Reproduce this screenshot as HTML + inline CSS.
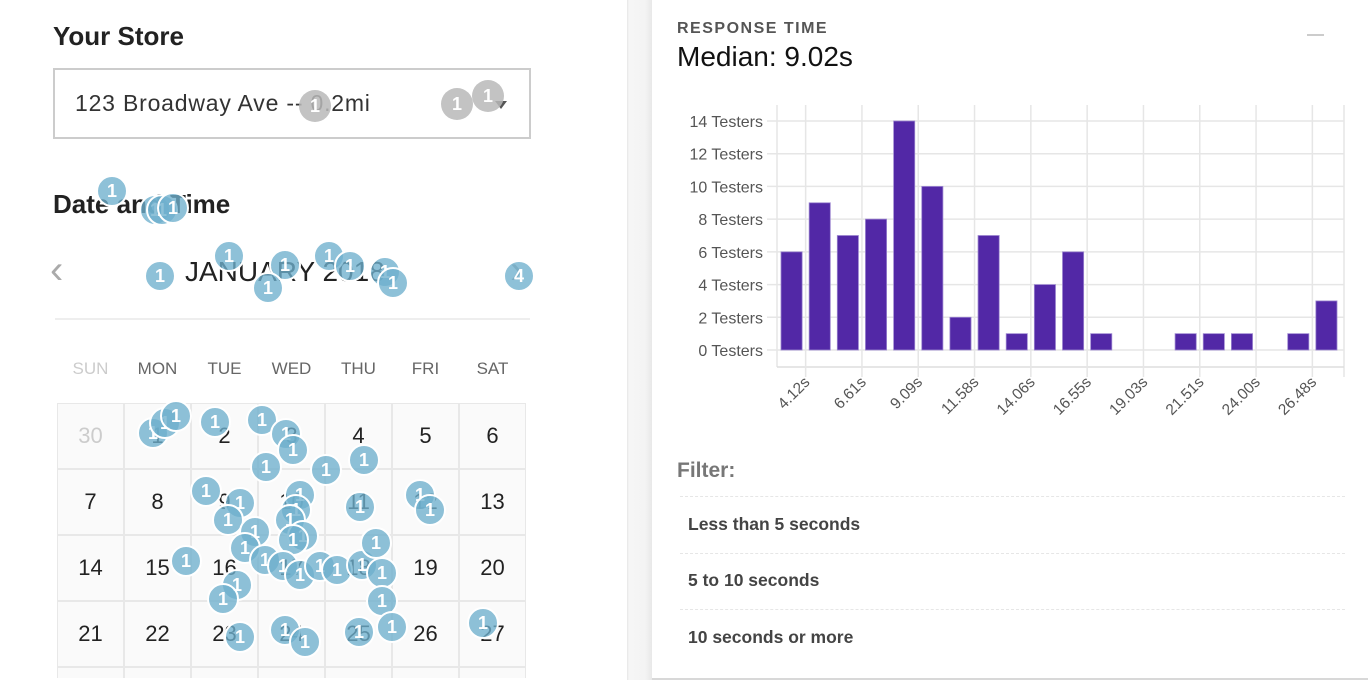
<!DOCTYPE html>
<html style="width:1368px;height:680px;overflow:hidden"><head><meta charset="utf-8">
<style>
*{box-sizing:border-box;margin:0;padding:0}
body{width:1368px;height:680px;overflow:hidden;background:#fff;font-family:"Liberation Sans",sans-serif;position:relative}
.abs{position:absolute}
.left{position:absolute;left:0;top:0;width:627px;height:680px;background:#fff;overflow:hidden}
.band{position:absolute;left:627px;top:0;width:25px;height:680px;background:linear-gradient(90deg,#e6e6e6 0,#f6f6f6 2px,#f4f4f4 18px,#e8e8e8 25px)}
.card{position:absolute;left:652px;top:0;width:716px;height:680px;background:#fff;border-bottom:2px solid #d8d8d8}
h2{position:absolute;font-size:26px;font-weight:bold;color:#222}
.sel{position:absolute;left:53px;top:68px;width:478px;height:71px;border:2px solid #ccc}
.dh{position:absolute;top:359px;font-size:17px;color:#666;width:67px;text-align:center}
.cell{position:absolute;width:67px;height:66px;border:1px solid #e8e8e8;background:#fafafa;font-size:22px;color:#222;text-align:center;line-height:64px;overflow:hidden}
.bub{position:absolute;width:32px;height:32px;border-radius:50%;background:rgba(110,175,205,0.78);border:2px solid #fff;color:#fff;font-weight:bold;font-size:18px;text-align:center;line-height:28px}
.gb{background:rgba(185,185,185,0.85);border:none;line-height:32px}
.frow{position:absolute;left:688px;font-size:17.5px;font-weight:bold;color:#444}
.sep{position:absolute;left:680px;width:665px;border-top:1px dashed #e6e6e6}
</style></head><body>
<div class="left">
<h2 style="left:53px;top:21px">Your Store</h2>
<div class="sel">
<div class="abs" style="left:20px;top:20px;font-size:23px;letter-spacing:0.8px;color:#333;white-space:nowrap">123 Broadway Ave -- 0.2mi</div>
<div class="abs" style="left:440px;top:31px;width:0;height:0;border-left:6px solid transparent;border-right:6px solid transparent;border-top:8px solid #555"></div>
</div>
<h2 style="left:53px;top:189px">Date and Time</h2>
<div class="abs" style="left:50px;top:248px;font-size:40px;color:#aaa">&#8249;</div>
<div class="abs" style="left:185px;top:256px;font-size:28px;color:#222">JANUARY 2018</div>
<div class="abs" style="left:510px;top:248px;font-size:40px;color:#aaa">&#8250;</div>
<div class="abs" style="left:55px;top:318px;width:475px;border-top:2px solid #eee"></div>
<div id="cal"></div>
<div id="bubs"></div>
</div>
<div class="band"></div>
<div class="card"></div>
<div class="abs" style="left:677px;top:20px;font-size:16px;font-weight:bold;color:#555;letter-spacing:1.5px">RESPONSE TIME</div>
<div class="abs" style="left:677px;top:41px;font-size:28px;color:#111">Median: 9.02s</div>
<div class="abs" style="left:1307px;top:34px;width:17px;border-top:2px solid #ccc"></div>
<svg id="chart" class="abs" style="left:0;top:0" width="1368" height="440"></svg>
<div class="abs" style="left:677px;top:459px;font-size:21px;font-weight:bold;color:#777">Filter:</div>
<div class="sep" style="top:496px"></div>
<div class="frow" style="top:514px">Less than 5 seconds</div>
<div class="sep" style="top:553px"></div>
<div class="frow" style="top:570px">5 to 10 seconds</div>
<div class="sep" style="top:609px"></div>
<div class="frow" style="top:627px">10 seconds or more</div>
<script>
const counts=[6,9,7,8,14,10,2,7,1,4,6,1,0,0,1,1,1,0,1,3];
const yTicks=[0,2,4,6,8,10,12,14];
const xTickLabels=["4.12s","6.61s","9.09s","11.58s","14.06s","16.55s","19.03s","21.51s","24.00s","26.48s"];
const NS="http://www.w3.org/2000/svg";
const svg=document.getElementById('chart');
const L=777,R=1344,T=105,B=367;
const y=v=>350-v*(350-121)/14;
const pitch=(R-L-4)/counts.length;
const bx=i=>L+4+i*pitch;
function el(t,a){const e=document.createElementNS(NS,t);for(const k in a)e.setAttribute(k,a[k]);svg.appendChild(e);return e;}
yTicks.forEach(v=>{
 const g=el('line',{x1:L-10,x2:R,y1:y(v),y2:y(v),stroke:'#e6e6e6','stroke-width':1.5});
 
 
 const t=el('text',{x:763,y:y(v)+6,'text-anchor':'end','font-size':16,fill:'#555','font-family':'Liberation Sans'});
 t.textContent=v+' Testers';
 
 
});
el('line',{x1:L,x2:L,y1:T,y2:B,stroke:'#e6e6e6','stroke-width':1.5});
el('line',{x1:R,x2:R,y1:T,y2:B+10,stroke:'#e6e6e6','stroke-width':1.5});
const ax=el('line',{x1:L,x2:R,y1:B,y2:B,stroke:'#ddd','stroke-width':1.5});


xTickLabels.forEach((lab,i)=>{
 const x=bx(2*i+1)-3.5;
 const g=el('line',{x1:x,x2:x,y1:T,y2:B+10,stroke:'#e6e6e6','stroke-width':1.5});
 
 
 const t=el('text',{x:x+5,y:B+16,'text-anchor':'end','font-size':15.5,fill:'#555','font-family':'Liberation Sans',transform:`rotate(-45 ${x+5} ${B+16})`});
 t.textContent=lab;
 
 
});
counts.forEach((c,i)=>{
 if(c<=0)return;
 const r=el('rect',{x:bx(i),y:y(c),width:pitch-7,height:y(0)-y(c),fill:'#5228a6',stroke:'#9c86d0','stroke-width':0.8});
 
 
});
const cal=document.getElementById('cal');
const days=["SUN","MON","TUE","WED","THU","FRI","SAT"];
days.forEach((d,i)=>{const e=document.createElement('div');e.className='dh';e.style.left=(57+i*67)+'px';e.textContent=d;if(i==0)e.style.color='#ccc';


cal.appendChild(e);});
const nums=[30,1,2,3,4,5,6,7,8,9,10,11,12,13,14,15,16,17,18,19,20,21,22,23,24,25,26,27,28,29,30,31,1,2,3];
nums.forEach((n,k)=>{const r=Math.floor(k/7),c=k%7;const e=document.createElement('div');e.className='cell';e.style.left=(57+c*67)+'px';e.style.top=(403+r*66)+'px';
if(r===4){e.style.height='11px';e.style.borderBottom='none';}else{e.textContent=n;}
if(k==0)e.style.color='#ccc';


cal.appendChild(e);});
const bub=[[112,191],[155,210],[162,210],[173,208],[160,276],[229,256],[285,265],[268,288],[329,256],[350,266],[385,272],[393,283],[153,433],[165,423],[176,416],[215,422],[262,420],[286,434],[293,450],[364,460],[266,467],[326,470],[206,491],[240,503],[228,520],[300,495],[296,510],[290,520],[303,536],[255,532],[245,548],[293,540],[265,560],[186,561],[237,585],[223,599],[283,566],[300,575],[320,566],[337,570],[362,565],[376,543],[382,573],[382,601],[359,632],[392,627],[483,623],[420,495],[430,510],[360,507],[240,637],[285,630],[305,642]];
const bb=document.getElementById('bubs');
function addB(x,yy,txt,cls){const e=document.createElement('div');e.className='bub '+cls;e.style.left=(x-16)+'px';e.style.top=(yy-16)+'px';e.textContent=txt;


bb.appendChild(e);}
bub.forEach(p=>addB(p[0],p[1],'1',''));
addB(519,276,'4','');
addB(315,106,'1','gb');addB(457,104,'1','gb');addB(488,96,'1','gb');
</script>
</body></html>
